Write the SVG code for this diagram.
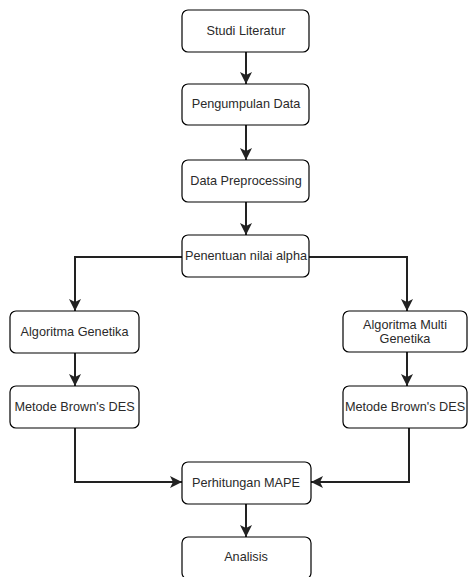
<svg xmlns="http://www.w3.org/2000/svg" width="468" height="577" viewBox="0 0 468 577">
<defs>
<style>
.box{fill:#fff;stroke:#000;stroke-width:1.2}
.t{font-family:"Liberation Sans",Arial,sans-serif;font-size:12.7px;fill:#2a2a2a;text-anchor:middle;dominant-baseline:central}
.c{fill:none;stroke:#222;stroke-width:2}
</style>
<marker id="ah" markerUnits="userSpaceOnUse" markerWidth="12" markerHeight="12" viewBox="0 0 12 12" refX="12" refY="6" orient="auto">
<path d="M0,0 L12,6 L0,12 L3,6 z" fill="#222"/>
</marker>
</defs>
<rect width="468" height="577" fill="#fff"/>
<g id="connectors">
<path class="c" d="M246,52 V84" marker-end="url(#ah)"/>
<path class="c" d="M246,125 V160" marker-end="url(#ah)"/>
<path class="c" d="M246,202 V235" marker-end="url(#ah)"/>
<path class="c" d="M182,257 H75 V311" marker-end="url(#ah)"/>
<path class="c" d="M309,257 H407 V311" marker-end="url(#ah)"/>
<path class="c" d="M75,353 V386" marker-end="url(#ah)"/>
<path class="c" d="M407,352 V386" marker-end="url(#ah)"/>
<path class="c" d="M75,428 V482 H182" marker-end="url(#ah)"/>
<path class="c" d="M409,428 V482 H311" marker-end="url(#ah)"/>
<path class="c" d="M246,504 V537" marker-end="url(#ah)"/>
</g>
<g id="studi"><rect class="box" x="182" y="10" width="127" height="42" rx="6"/><text class="t" x="246" y="31">Studi Literatur</text></g>
<g id="pengumpulan"><rect class="box" x="182" y="84" width="127" height="41" rx="6"/><text class="t" x="246" y="104">Pengumpulan Data</text></g>
<g id="preprocessing"><rect class="box" x="182" y="160" width="127" height="42" rx="6"/><text class="t" x="246" y="181">Data Preprocessing</text></g>
<g id="alpha"><rect class="box" x="182" y="235" width="127" height="42" rx="6"/><text class="t" x="246" y="256">Penentuan nilai alpha</text></g>
<g id="ag"><rect class="box" x="10" y="311" width="129" height="42" rx="6"/><text class="t" x="74.5" y="332">Algoritma Genetika</text></g>
<g id="amg"><rect class="box" x="343" y="311" width="124" height="41" rx="6"/><text class="t" x="405" y="325">Algoritma Multi</text><text class="t" x="405" y="339">Genetika</text></g>
<g id="des1"><rect class="box" x="10" y="386" width="129" height="42" rx="6"/><text class="t" x="74.5" y="407">Metode Brown's DES</text></g>
<g id="des2"><rect class="box" x="343" y="386" width="124" height="42" rx="6"/><text class="t" x="405" y="407">Metode Brown's DES</text></g>
<g id="mape"><rect class="box" x="182" y="462" width="129" height="42" rx="6"/><text class="t" x="246" y="483">Perhitungan MAPE</text></g>
<g id="analisis"><rect class="box" x="182" y="537" width="129" height="42" rx="6"/><text class="t" x="246" y="557">Analisis</text></g>
</svg>
